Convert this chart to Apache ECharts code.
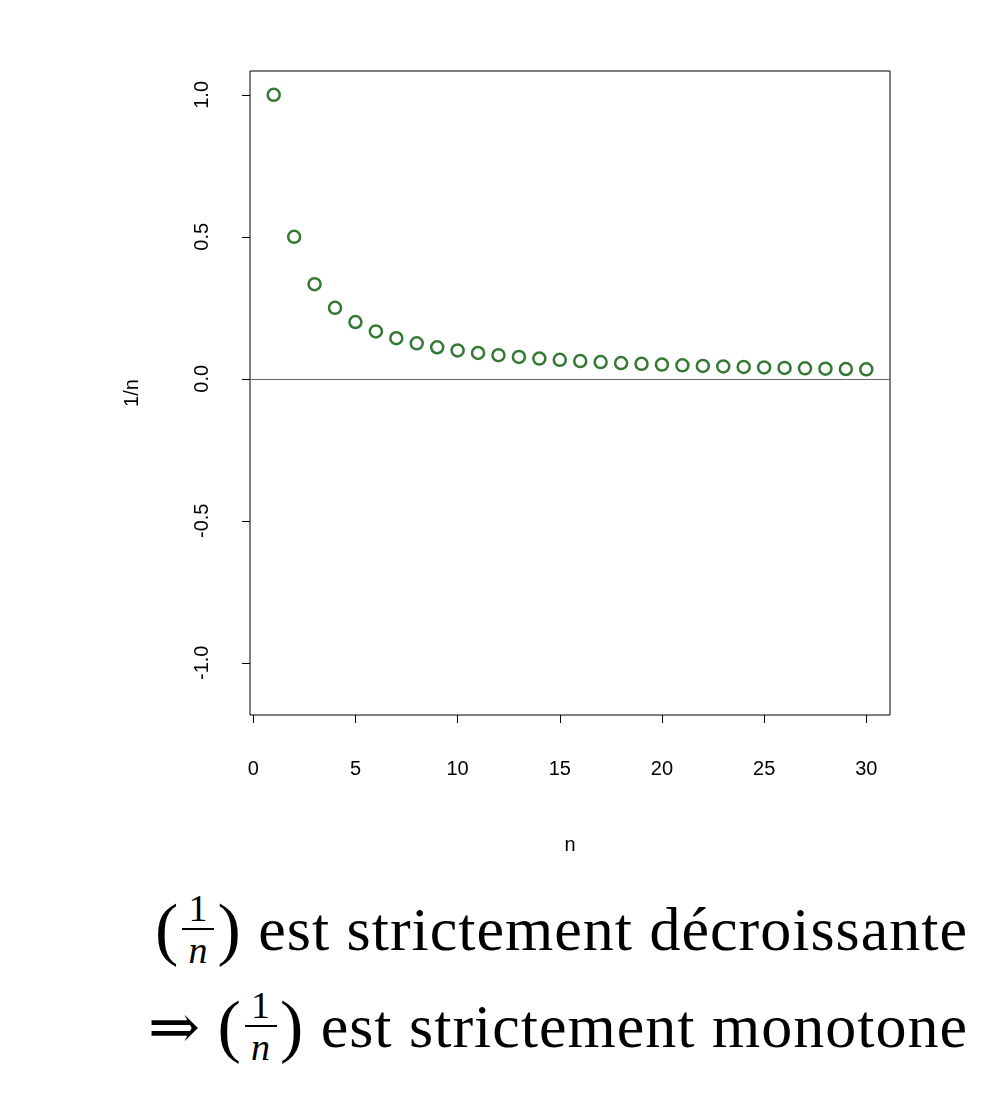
<!DOCTYPE html>
<html><head><meta charset="utf-8">
<script src="https://cdn.jsdelivr.net/npm/echarts@6/dist/echarts.min.js"></script>
<style>
body{margin:0;background:#fff;width:1000px;height:1101px;position:relative;overflow:hidden}
#c{position:absolute;left:0;top:0;width:1000px;height:860px}
.line{position:absolute;right:32px;font-family:"Liberation Serif","DejaVu Serif",serif;font-size:62px;display:flex;align-items:center;white-space:nowrap;letter-spacing:1px}
.frac{display:inline-flex;flex-direction:column;align-items:center;font-size:38px;line-height:40px;margin:0 3px}
.frac .num{border-bottom:2px solid #000;padding:0 6px}
.frac .den{font-style:italic}
.par{font-size:70px}
</style></head><body>
<div id="c"></div>
<div class="line" style="top:888px"><span class="par">(</span><span class="frac"><span class="num">1</span><span class="den">n</span></span><span class="par">)</span>&nbsp;est strictement décroissante</div>
<div class="line" style="top:985px">⇒&nbsp;<span class="par">(</span><span class="frac"><span class="num">1</span><span class="den">n</span></span><span class="par">)</span>&nbsp;est strictement monotone</div>
<script>
const n = [];
const values = [];
for (let i = 1; i <= 30; i++) { n.push(i); values.push(1 / i); }
const xTicks = [0, 5, 10, 15, 20, 25, 30];
const yTicks = [-1, -0.5, 0, 0.5, 1];
const chart = echarts.init(document.getElementById('c'));
chart.setOption({
  animation: false,
  grid: {left: 250, right: 110, top: 71, bottom: 144, show: true, borderColor: '#000', borderWidth: 1},
  xAxis: {type: 'value', min: -0.16, max: 31.16, name: 'n', nameLocation: 'middle', nameGap: 120,
    nameTextStyle: {fontFamily: 'Liberation Sans', fontSize: 20, color: '#000'},
    axisLine: {show: false, onZero: false}, splitLine: {show: false},
    axisTick: {show: true, inside: false, length: 8, customValues: xTicks, lineStyle: {color: '#000'}},
    axisLabel: {customValues: xTicks, margin: 44, fontFamily: 'Liberation Sans', fontSize: 20, color: '#000'}},
  yAxis: {type: 'value', min: -1.184, max: 1.084, name: '1/n', nameLocation: 'middle', nameGap: 108, nameRotate: 90,
    nameTextStyle: {fontFamily: 'Liberation Sans', fontSize: 20, color: '#000'},
    axisLine: {show: false, onZero: false}, splitLine: {show: false},
    axisTick: {show: true, inside: false, length: 8, customValues: yTicks, lineStyle: {color: '#000'}},
    axisLabel: {customValues: yTicks, rotate: 90, margin: 38, fontFamily: 'Liberation Sans', fontSize: 20, color: '#000',
      formatter: v => v.toFixed(1), align: 'center', verticalAlign: 'bottom'}},
  series: [{type: 'scatter', data: n.map((x, i) => [x, values[i]]), symbol: 'circle', symbolSize: 12,
    itemStyle: {color: '#fff', borderColor: '#005800', borderWidth: 2.5},
    markLine: {silent: true, symbol: 'none', label: {show: false},
      lineStyle: {color: '#666', width: 1, type: 'solid'}, data: [{yAxis: 0}]}}]
});
</script></body></html>
